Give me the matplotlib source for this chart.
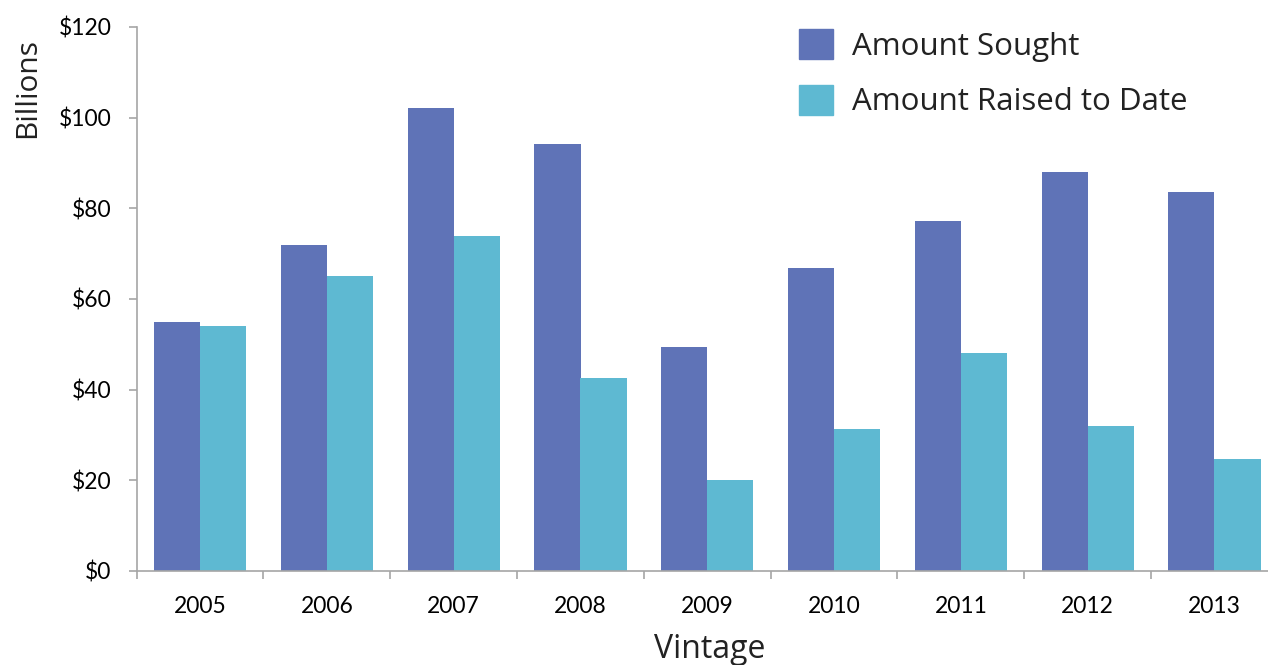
import matplotlib.pyplot as plt
from matplotlib.patches import Patch
import numpy as np

# Данні (млрд $)
vintages = ["2005", "2006", "2007", "2008", "2009", "2010", "2011", "2012", "2013"]
amount_sought = [55, 72, 102.2, 94.3, 49.5, 66.9, 77.2, 88, 83.7]
amount_raised = [54, 65, 74, 42.6, 20, 31.3, 48, 32, 24.8]
y_ticks = [0, 20, 40, 60, 80, 100, 120]
y_tick_labels = ["$0", "$20", "$40", "$60", "$80", "$100", "$120"]

SOUGHT_COLOR = "#5F73B7"
RAISED_COLOR = "#5EB9D2"
AXIS_COLOR = "#A6A6A6"
TICK_FONT = "Lato"
LIGHT_FONT = "Open Sans"

fig = plt.figure(figsize=(12.68, 6.65), dpi=100)
ax = fig.add_axes([136.7 / 1268, 1 - 571 / 665, 1141.2 / 1268, 544 / 665])

x = np.arange(len(vintages))
w = 0.363
ax.bar(x - w / 2, amount_sought, width=w, color=SOUGHT_COLOR, label="Amount Sought")
ax.bar(x + w / 2, amount_raised, width=w, color=RAISED_COLOR, label="Amount Raised to Date")

ax.set_xlim(-0.5, len(vintages) - 0.5)
ax.set_ylim(0, 120)

# осі
for side in ["top", "right"]:
    ax.spines[side].set_visible(False)
for side in ["left", "bottom"]:
    ax.spines[side].set_color(AXIS_COLOR)
    ax.spines[side].set_linewidth(1.2)

ax.set_yticks(y_ticks)
ax.set_yticklabels(y_tick_labels, fontsize=16.5, family=TICK_FONT)
ax.tick_params(axis="y", length=6, width=1.2, color=AXIS_COLOR, pad=12)

# мітки між категоріями, підписи по центру
ax.set_xticks(np.arange(len(vintages) + 1) - 0.5)
ax.set_xticklabels([])
ax.tick_params(axis="x", which="major", length=6, width=1.2, color=AXIS_COLOR)
ax.set_xticks(x, minor=True)
ax.set_xticklabels(vintages, minor=True, fontsize=16.5, family=TICK_FONT)
ax.tick_params(axis="x", which="minor", length=0, pad=18)

fig.text(28 / 1268, 1 - 88 / 665, "Billions", rotation=90, ha="center", va="center",
         fontsize=21.5, family=LIGHT_FONT, color="#222222")
fig.text(710 / 1268, 1 - 650 / 665, "Vintage", ha="center", va="center",
         fontsize=23, family=LIGHT_FONT, color="#222222")

handles = [Patch(color=SOUGHT_COLOR), Patch(color=RAISED_COLOR)]
leg = fig.legend(handles, ["Amount Sought", "Amount Raised to Date"],
                 loc="upper left", bbox_to_anchor=(771 / 1268, 1 - 1 / 665),
                 frameon=False, handlelength=1.08, handleheight=1.08,
                 handletextpad=0.6, labelspacing=0.75,
                 prop={"family": LIGHT_FONT, "size": 22.5})
for t in leg.get_texts():
    t.set_color("#222222")

plt.savefig("out.png", dpi=100)
plt.close()
